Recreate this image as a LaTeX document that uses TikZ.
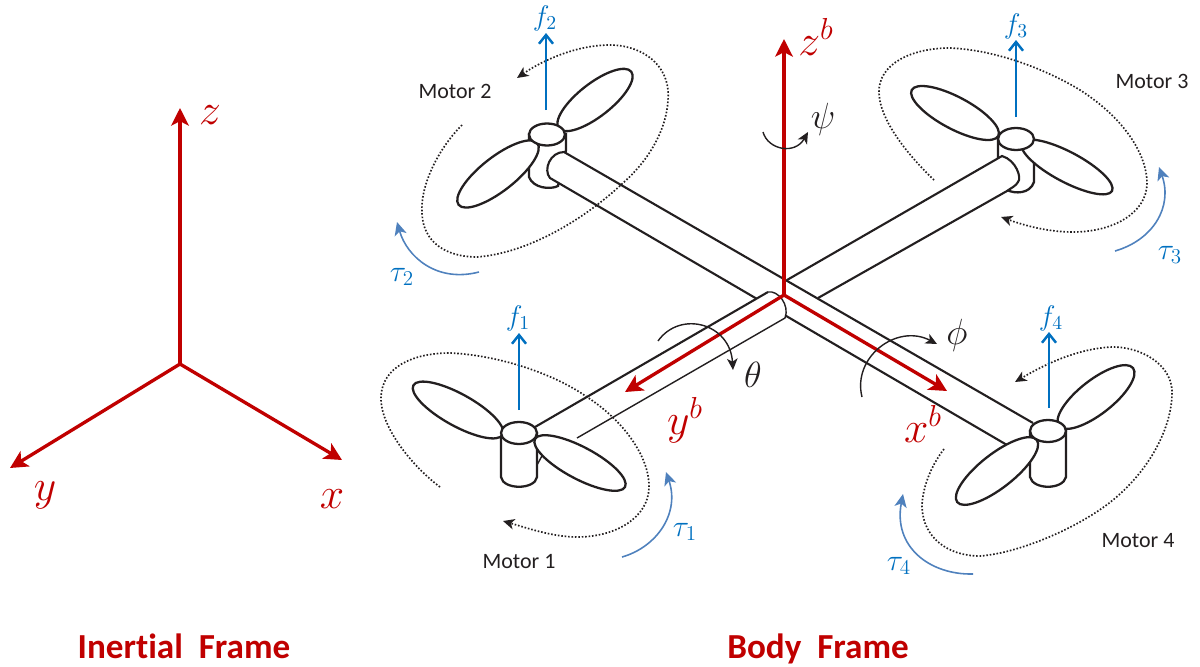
\documentclass[tikz,border=0pt]{standalone}
\usepackage{fontspec}
\setmainfont[Ligatures=NoCommon]{Carlito}
\definecolor{axisRed}{RGB}{192,0,0}
\definecolor{thrustBlue}{RGB}{0,112,192}
\definecolor{torqueBlue}{RGB}{79,129,189}
\definecolor{inkGray}{RGB}{35,31,32}
\usetikzlibrary{arrows.meta}
\newcommand{\bodyax}[1]{$#1^{\scriptscriptstyle b}$}
\tikzset{
  axis/.style={-{Stealth[length=10pt,width=10pt,inset=2.5pt]},draw=axisRed,line width=1.9pt},
  thrust/.style={-{Straight Barb[length=5pt,width=8pt]},draw=thrustBlue,line width=1.4pt},
  torque/.style={-{Stealth[length=7.5pt,width=7pt,inset=2pt]},draw=torqueBlue,line width=0.9pt},
  spin/.style={-{Stealth[length=6.5pt,width=6pt,inset=1.8pt]},draw=inkGray,line width=0.95pt,
    dash pattern=on 0.9pt off 1.05pt},
  turn/.style={-{Stealth[length=6.5pt,width=6pt,inset=1.8pt]},draw=inkGray,line width=0.8pt},
  part/.style={draw=inkGray,line width=1.3pt,fill=white},
  arm/.style={draw=inkGray,line width=1.2pt},
  armthin/.style={draw=inkGray,line width=0.8pt},
  axlabel/.style={text=axisRed,font=\fontsize{24.88}{25}\selectfont},
  rotlabel/.style={text=inkGray,font=\fontsize{20.74}{21}\selectfont},
  flabel/.style={text=thrustBlue,font=\fontsize{14.4}{15}\selectfont,scale=1.12},
  taulabel/.style={text=thrustBlue,font=\fontsize{17.28}{18}\selectfont},
  motor/.style={text=inkGray,font=\fontsize{12.5}{13}\selectfont},
  frametitle/.style={text=axisRed,font=\bfseries\fontsize{20}{21}\selectfont,anchor=base}
}
\begin{document}
\begin{tikzpicture}[x=0.02cm,y=-0.02cm]
  \useasboundingbox (0,0) rectangle (1200,666);
  % inertial frame
  \coordinate (o) at (180,364);
  \coordinate (zi) at (180,108);
  \coordinate (xi) at (342,460);
  \coordinate (yi) at (10,468);
  \draw[axis] (o) -- (zi);
  \draw[axis] (o) -- (xi);
  \draw[axis] (o) -- (yi);
  \node[axlabel] (zilabel) at (210,115) {$z$};
  \node[axlabel] (xilabel) at (332,499) {$x$};
  \node[axlabel] (yilabel) at (45,495) {$y$};
  % cylinders behind the arms
  \draw[part] (529,134) -- (529,177) .. controls (533,188) and (550,190) .. (558,186) -- (566,150) -- (566,134) -- cycle;
  \draw[part] (998,139) -- (998,160) -- (1007,190) .. controls (1015,194) and (1030,194) .. (1034,182) -- (1034,139) -- cycle;
  % arms
  \fill[white] (1000,157) -- (787,280) -- (818,298) -- (1007,190) .. controls (1022,182) and (1018,165) .. (1000,157) -- cycle;
  \draw[arm] (787,280) -- (1002,156) .. controls (1016,160) and (1022,178) .. (1018,182) .. controls (1016,186) and (1011,188) .. (1007,191) -- (818,298);
  \fill[white] (564,152) -- (1033,423) -- (1007,445) -- (550,178) .. controls (543,170) and (550,152) .. (564,152) -- cycle;
  \draw[arm] (1033,423) -- (564,152) .. controls (550,152) and (543,170) .. (550,178) -- (1007,445);
  \fill[white] (535,427) -- (768,292) .. controls (778,290) and (790,305) .. (785,318) -- (577,438) -- cycle;
  \draw[arm] (535,427) -- (768,292);
  \draw[armthin] (768,292) .. controls (778,290) and (790,305) .. (785,318) -- (577,438);
  \draw[armthin] (537,465) -- (543,454);
  % cylinders in front of the arms
  \draw[part] (501,433) -- (501,477) .. controls (503,490) and (535,490) .. (537,477) -- (537,433) -- cycle;
  \draw[part] (1030,431) -- (1030,477) .. controls (1033,490) and (1063,490) .. (1066,477) -- (1066,431) -- cycle;
  % blades
  \foreach \bx/\by/\ba/\brx/\bry in {595/100/38/46/16.5,498/174/38/50/17,955/113/-28/49/16,1067/167/-28/51/15,
      458/410/-29/51/16,580/463/-28/51/16,1096/397/38/47/17,997/471/38/50.5/17}
    \draw[part,rotate around={\ba:(\bx,\by)}] (\bx,\by) ellipse ({\brx} and {\bry});
  % hubs
  \foreach \hx/\hy in {547/134.5,1016/139,519/433,1048/431}
    \draw[part] (\hx,\hy) ellipse (18 and 11);
  % spin direction
  \draw[spin] (462,125) .. controls (437,150) and (420,187) .. (422,213) .. controls (423,243) and (447,257) .. (477,257) .. controls (530,253) and (587,217) .. (623,183) .. controls (657,153) and (670,117) .. (668,90) .. controls (665,60) and (637,45) .. (610,45) .. controls (577,45) and (543,60) .. (517,78);
  \draw[spin] (934,180) .. controls (913,160) and (880,123) .. (879,93) .. controls (878,63) and (913,48) .. (950,48) .. controls (997,50) and (1047,70) .. (1080,90) .. controls (1127,120) and (1147,157) .. (1147,183) .. controls (1147,213) and (1113,232) .. (1073,232) .. controls (1047,232) and (1023,225) .. (1001,217);
  \draw[spin] (440,487) .. controls (413,467) and (380,427) .. (381,397) .. controls (382,367) and (413,353) .. (450,353) .. controls (497,355) and (553,373) .. (587,397) .. controls (627,423) and (650,460) .. (649,488) .. controls (648,517) and (617,537) .. (577,537) .. controls (553,537) and (527,528) .. (503,521);
  \draw[spin] (944,449) .. controls (930,467) and (922,490) .. (922,507) .. controls (923,537) and (947,556) .. (980,556) .. controls (1020,553) and (1080,527) .. (1113,500) .. controls (1153,467) and (1173,423) .. (1172,390) .. controls (1170,363) and (1140,347) .. (1113,347) .. controls (1080,348) and (1047,363) .. (1015,382);
  % thrust
  \coordinate (f1a) at (519,410); \coordinate (f1b) at (519,333);
  \coordinate (f2a) at (546,110); \coordinate (f2b) at (546,33);
  \coordinate (f3a) at (1016,117); \coordinate (f3b) at (1016,40);
  \coordinate (f4a) at (1049,408); \coordinate (f4b) at (1049,332);
  \foreach \m in {1,2,3,4}
    \draw[thrust] (f\m a) -- (f\m b);
  \node[flabel] (f1label) at (518,318) {$f_1$};
  \node[flabel] (f2label) at (545,18) {$f_2$};
  \node[flabel] (f3label) at (1016,26) {$f_3$};
  \node[flabel] (f4label) at (1051,318) {$f_4$};
  % torque
  \coordinate (t1a) at (622,557); \coordinate (t1b) at (666,472);
  \coordinate (t2a) at (479,272); \coordinate (t2b) at (397,222);
  \coordinate (t3a) at (1115,251); \coordinate (t3b) at (1159,167);
  \coordinate (t4a) at (973,574); \coordinate (t4b) at (903,494);
  \draw[torque] (t1a) .. controls (657,547) and (680,513) .. (t1b);
  \draw[torque] (t2a) .. controls (437,283) and (407,257) .. (t2b);
  \draw[torque] (t3a) .. controls (1153,240) and (1173,207) .. (t3b);
  \draw[torque] (t4a) .. controls (930,575) and (893,547) .. (t4b);
  \node[taulabel] (t1label) at (685,532) {$\tau_1$};
  \node[taulabel] (t2label) at (402,277) {$\tau_2$};
  \node[taulabel] (t3label) at (1170,255) {$\tau_3$};
  \node[taulabel] (t4label) at (899,566) {$\tau_4$};
  \node[motor] (m1) at (519,562) {Motor 1};
  \node[motor] (m2) at (455,91) {Motor 2};
  \node[motor] (m3) at (1152,81) {Motor 3};
  \node[motor] (m4) at (1138,541) {Motor 4};
  % body frame
  \coordinate (ob) at (784,295);
  \coordinate (zb) at (784,39);
  \coordinate (xb) at (947,391);
  \coordinate (yb) at (625,392);
  \draw[axis] (ob) -- (zb);
  \draw[axis] (ob) -- (xb);
  \draw[axis] (ob) -- (yb);
  \node[axlabel] (zblabel) at (816,37) {\bodyax{z}};
  \node[axlabel] (xblabel) at (923,424) {\bodyax{x}};
  \node[axlabel] (yblabel) at (685,420) {\bodyax{y}};
  % body rotations
  \coordinate (psia) at (763,132); \coordinate (psib) at (808,132);
  \coordinate (thea) at (658,341); \coordinate (theb) at (733,370);
  \coordinate (phia) at (862,397); \coordinate (phib) at (937,344);
  \draw[turn] (psia) .. controls (768,150) and (795,155) .. (psib);
  \draw[turn] (thea) .. controls (680,310) and (730,323) .. (theb);
  \draw[turn] (phia) .. controls (852,357) and (897,323) .. (phib);
  \node[rotlabel] (psilabel) at (823,119) {$\psi$};
  \node[rotlabel] (thetalabel) at (753,375) {$\theta$};
  \node[rotlabel] (philabel) at (957,335) {$\phi$};
  % titles
  \node[frametitle] (inertial) at (184,658) {Inertial\ \ Frame};
  \node[frametitle] (body) at (818,658) {Body\ \ Frame};
\end{tikzpicture}
\end{document}
